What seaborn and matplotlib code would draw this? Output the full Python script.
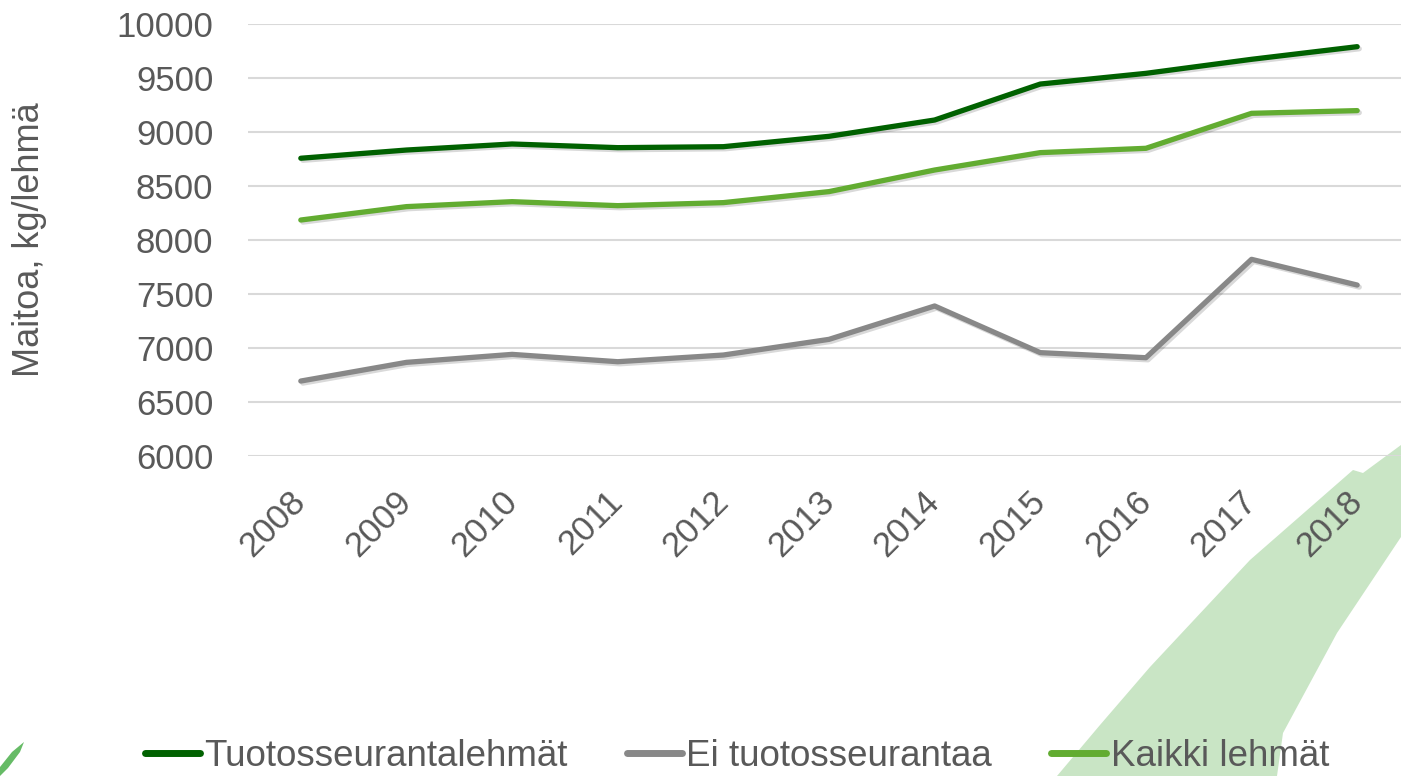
import matplotlib
matplotlib.use('Agg')
import matplotlib.pyplot as plt
import matplotlib.patheffects as pe
from matplotlib.patches import Polygon
import pandas as pd
import seaborn as sns

years = ['2008', '2009', '2010', '2011', '2012', '2013', '2014', '2015', '2016', '2017', '2018']
tuotosseuranta = [8757, 8833, 8889, 8855, 8864, 8960, 9111, 9444, 9543, 9673, 9790]
ei_tuotosseurantaa = [6694, 6867, 6941, 6873, 6935, 7080, 7389, 6957, 6910, 7821, 7583]
kaikki = [8185, 8309, 8355, 8318, 8346, 8448, 8648, 8809, 8849, 9173, 9198]
series_names = ['Tuotosseurantalehmät', 'Ei tuotosseurantaa', 'Kaikki lehmät']
colors = ['#006100', '#888888', '#62AC31']

df = pd.DataFrame({
    'vuosi': years * 3,
    'maito': tuotosseuranta + ei_tuotosseurantaa + kaikki,
    'sarja': [series_names[0]] * 11 + [series_names[1]] * 11 + [series_names[2]] * 11,
})

sns.set_style('white')
plt.rcParams['font.family'] = ['Liberation Sans', 'DejaVu Sans']
text_col = '#595959'

fig = plt.figure(figsize=(14.01, 7.76), dpi=100)
W, H = 1401, 776

# decorative swoosh in the background (figure pixel coords)
swoosh = [(1057, 776), (1100, 725), (1150, 667), (1250, 560), (1353, 470), (1363, 473),
          (1401, 445), (1401, 537), (1337, 633), (1283, 733), (1277, 776)]
fig.patches.append(Polygon([(x / W, 1 - y / H) for x, y in swoosh], closed=True,
                           transform=fig.transFigure, facecolor='#C9E5C5', edgecolor='none', zorder=-5))
mark = [(0, 776), (0, 767), (12, 752), (24, 742), (20, 752), (8, 768)]
fig.patches.append(Polygon([(x / W, 1 - y / H) for x, y in mark], closed=True,
                           transform=fig.transFigure, facecolor='#66BB66', edgecolor='none', zorder=-5))

ax = fig.add_axes([248 / W, 1 - 456 / H, (1410 - 248) / W, (456 - 24) / H])
ax.patch.set_alpha(0)
ax.set_zorder(2)

sns.lineplot(data=df, x='vuosi', y='maito', hue='sarja', hue_order=series_names,
             palette=colors, linewidth=3.8, ax=ax, legend=False)
for line in ax.lines:
    line.set_solid_capstyle('round')
    line.set_path_effects([pe.SimpleLineShadow(offset=(1.5, -1.5), alpha=0.15, shadow_color='black'),
                           pe.Normal()])

ax.set_ylim(6000, 10000)
ax.set_yticks(range(6000, 10001, 500))
ax.set_xlim(-0.5, 10.5)
ax.grid(axis='y', color='#D9D9D9', linewidth=1.5)
ax.set_axisbelow(True)
for s in ax.spines.values():
    s.set_visible(False)
ax.tick_params(axis='both', length=0, labelsize=25, colors=text_col)
ax.tick_params(axis='y', pad=25)
ax.tick_params(axis='x', pad=29)
plt.setp(ax.get_xticklabels(), rotation=45, ha='right', va='center', rotation_mode='anchor')
ax.set_xlabel('')
ax.set_ylabel('Maitoa, kg/lehmä', fontsize=26, color=text_col)
ax.yaxis.set_label_coords((47 - 248) / (1410 - 248), 0.5)

handles = [plt.Line2D([], [], color=c, linewidth=5, solid_capstyle='round') for c in colors]
fig.legend(handles, series_names, loc='center', bbox_to_anchor=(737 / W, 1 - 756 / H), ncol=3,
           frameon=False, fontsize=26.5, labelcolor=text_col, handlelength=1.5, handletextpad=0.12,
           columnspacing=1.6, borderpad=0)

fig.savefig('out.png', dpi=100)
